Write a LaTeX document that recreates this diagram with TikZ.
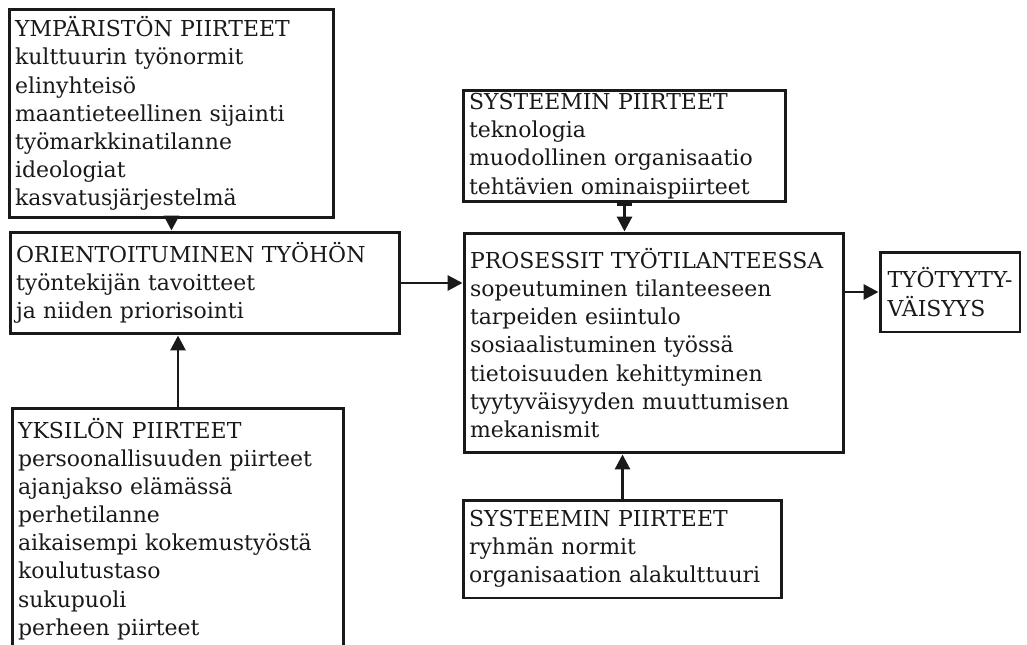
\documentclass[tikz,border=0pt]{standalone}
\usepackage{fontspec}
\setmainfont{DejaVu Serif}
\usepackage{xcolor}
\definecolor{inkblack}{RGB}{25,25,25}
\usetikzlibrary{arrows.meta, positioning, calc}

\tikzset{
  box/.style={draw=inkblack, line width=1.7pt, inner xsep=0.12cm, inner ysep=0.06cm,
    align=left, text=inkblack, font=\fontsize{12.5}{16}\selectfont},
  arr/.style={draw=inkblack, line width=1.7pt, -{Triangle[length=0.3cm, width=0.3cm]}}
}

\begin{document}
\begin{tikzpicture}[x=0.02cm, y=-0.02cm]
  \useasboundingbox (0,0) rectangle (1027,645);

  % Left column
  \node[box, text width=6.26cm, minimum height=4.18cm] (ymp) at (171.5,113.5)
    {YMPÄRISTÖN PIIRTEET\\ kulttuurin työnormit\\ elinyhteisö\\ maantieteellinen sijainti\\
     työmarkkinatilanne\\ ideologiat\\ kasvatusjärjestelmä};
  \node[box, text width=7.56cm, minimum height=2.04cm] (orient) at (205,283)
    {ORIENTOITUMINEN TYÖHÖN\\ työntekijän tavoitteet\\ ja niiden priorisointi};
  \node[box, text width=6.4cm, minimum height=4.84cm] (yks) at (178,529)
    {YKSILÖN PIIRTEET\\ persoonallisuuden piirteet\\ ajanjakso elämässä\\ perhetilanne\\
     aikaisempi kokemustyöstä\\ koulutustaso\\ sukupuoli\\ perheen piirteet};

  % Middle column
  \node[box, text width=6.22cm, minimum height=2.04cm] (sys1) at (624.5,146)
    {SYSTEEMIN PIIRTEET\\ teknologia\\ muodollinen organisaatio\\ tehtävien ominaispiirteet};
  \node[box, text width=7.36cm, minimum height=4.4cm] (proc) at (654,343)
    {PROSESSIT TYÖTILANTEESSA\\ sopeutuminen tilanteeseen\\ tarpeiden esiintulo\\
     sosiaalistuminen työssä\\ tietoisuuden kehittyminen\\ tyytyväisyyden muuttumisen\\ mekanismit};
  \node[box, text width=6.14cm, minimum height=1.96cm] (sys2) at (622.5,549)
    {SYSTEEMIN PIIRTEET\\ ryhmän normit\\ organisaation alakulttuuri};

  % Outcome
  \node[box, inner xsep=0.05cm, minimum width=2.8cm, minimum height=1.6cm] (tyo) at (950,292)
    {TYÖTYYTY-\\ VÄISYYS};

  % Arrows
  \draw[arr] (ymp.south) -- (ymp.south |- orient.north);
  \draw[arr] (yks.north) -- (yks.north |- orient.south);
  \draw[arr] (orient.east) -- (orient.east -| proc.west);
  \draw[arr, {Bar[width=0.3cm]}-{Triangle[length=0.3cm, width=0.3cm]}] (sys1.south) -- (sys1.south |- proc.north);
  \draw[arr] (sys2.north) -- (sys2.north |- proc.south);
  \draw[arr] (tyo.west -| proc.east) -- (tyo.west);
\end{tikzpicture}
\end{document}
